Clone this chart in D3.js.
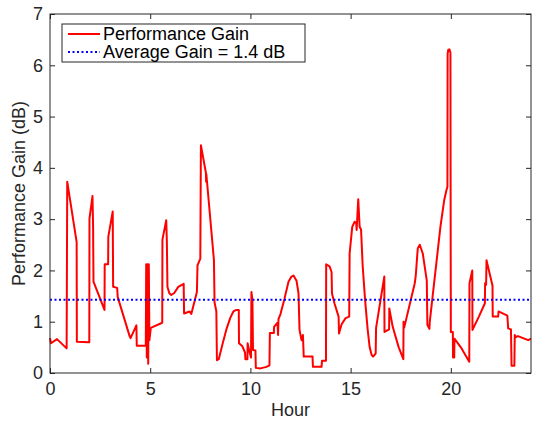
<!DOCTYPE html>
<html>
<head>
<meta charset="utf-8">
<script src="https://cdn.jsdelivr.net/npm/d3@7"></script>
<style>
html,body{margin:0;padding:0;background:#fff;}
svg{display:block;font-family:"Liberation Sans",Arial,Helvetica,sans-serif;}
</style>
</head>
<body>
<svg id="chart" width="533" height="422"></svg>
<script>
const hours = [0.00,0.05,0.35,0.83,0.86,1.33,1.34,1.96,1.97,2.12,2.15,2.17,2.72,2.73,2.90,2.91,3.13,3.15,3.35,3.38,3.98,4.02,4.31,4.33,4.78,4.80,4.83,4.86,4.90,4.93,4.96,5.03,5.60,
5.61,5.80,5.83,5.86,5.95,6.05,6.20,6.40,6.67,6.69,6.97,7.05,7.13,7.33,7.36,7.50,7.53,7.55,7.78,7.79,7.80,8.18,8.21,8.30,8.33,8.42,
8.60,8.80,9.00,9.15,9.30,9.42,9.43,9.60,9.73,9.75,9.85,9.86,9.95,10.03,10.05,10.10,10.13,10.25,10.27,10.50,10.80,10.95,10.97,11.17,11.18,11.35,11.38,11.40,
11.50,11.70,11.90,12.05,12.15,12.30,12.40,12.45,12.55,12.62,12.66,13.10,13.12,13.55,13.57,13.77,13.78,13.95,14.05,14.07,14.20,14.40,14.42,14.55,14.75,14.93,
14.95,15.08,15.20,15.28,15.30,15.38,15.45,15.52,15.60,15.72,15.85,15.95,16.05,16.12,16.25,16.27,16.68,16.69,16.92,16.93,17.10,17.40,17.63,17.64,17.67,
18.20,18.25,18.35,18.45,18.60,18.80,18.83,18.93,18.95,19.48,19.67,19.77,19.83,19.84,19.87,19.93,19.98,20.00,20.10,20.11,20.17,20.18,20.50,20.92,
20.93,21.07,21.08,21.40,21.70,21.71,21.76,21.78,22.08,22.09,22.36,22.38,22.82,22.86,23.00,23.03,23.17,23.19,23.25,23.35,23.86,24.00];
const gain = [0.68,0.58,0.66,0.48,3.73,2.55,0.61,0.60,3.01,3.45,2.85,1.78,1.23,2.12,2.12,2.66,3.15,1.68,1.66,1.48,0.71,0.68,0.93,0.53,0.53,2.12,0.30,2.12,0.18,2.12,0.64,0.88,0.98,
2.60,2.98,2.58,1.68,1.56,1.52,1.56,1.68,1.74,1.16,1.20,1.15,1.27,1.58,2.10,2.23,4.44,4.40,3.90,3.73,3.88,2.20,1.38,1.20,0.25,0.27,
0.55,0.85,1.08,1.20,1.23,1.23,0.58,0.52,0.40,0.27,0.27,0.58,0.42,0.30,1.58,1.42,0.45,0.44,0.10,0.09,0.12,0.15,0.78,0.78,0.90,0.98,0.74,1.05,
1.15,1.45,1.78,1.88,1.90,1.80,1.55,0.84,0.64,0.74,0.32,0.32,0.12,0.12,0.24,0.24,2.12,2.08,1.97,1.55,1.35,1.10,0.77,0.95,1.07,1.10,
2.33,2.85,2.95,2.92,2.79,3.39,2.85,2.80,2.10,1.43,0.85,0.50,0.35,0.32,0.38,0.88,1.88,0.80,0.85,1.26,0.90,0.50,0.27,1.00,0.88,
1.75,1.90,2.43,2.50,2.33,1.80,0.94,0.86,1.00,2.85,3.37,3.55,3.63,6.22,6.30,6.31,6.25,0.80,0.80,0.30,0.30,0.67,0.50,0.22,
1.75,2.00,0.84,1.10,1.36,1.75,1.72,2.20,1.70,1.10,1.10,1.20,1.12,0.87,0.85,0.14,0.14,0.74,0.70,0.72,0.64,0.67];
const averageGain = 1.43;
const xTicks = [0,5,10,15,20];
const yTicks = [0,1,2,3,4,5,6,7];
const legendLabels = ["Performance Gain","Average Gain = 1.4 dB"];

const svg = d3.select("#chart");
const m = {l:50, r:2, t:14, b:49};
const W = 533, H = 422;
const x = d3.scaleLinear().domain([0,24]).range([m.l, W-m.r]);
const y = d3.scaleLinear().domain([0,7]).range([H-m.b, m.t]);
const axisColor = "#262626";
const fmt = d3.format("d");

// data line
const pts = hours.map((h,i)=>[h,gain[i]]);
svg.append("path").datum(pts)
  .attr("fill","none").attr("stroke","#ff0000").attr("stroke-width",2)
  .attr("stroke-linejoin","round")
  .attr("d", d3.line().x(d=>x(d[0])).y(d=>y(d[1])));

// average line
svg.append("line")
  .attr("x1",x(0)).attr("x2",x(24)).attr("y1",y(averageGain)).attr("y2",y(averageGain))
  .attr("stroke","#0000ff").attr("stroke-width",2).attr("stroke-dasharray","2,2.5");

function styleAxis(g, labels){
  g.select(".domain").remove();
  g.selectAll(".tick line").attr("stroke",axisColor).attr("stroke-width",1);
  g.selectAll(".tick text").attr("fill",axisColor).attr("font-size","18px")
    .attr("font-family","'Liberation Sans',Arial,Helvetica,sans-serif");
  if(!labels) g.selectAll(".tick text").remove();
}
svg.append("g").attr("transform",`translate(0,${y(0)})`)
  .call(d3.axisBottom(x).tickValues(xTicks).tickFormat(fmt).tickSizeInner(-5).tickSizeOuter(0).tickPadding(9))
  .call(g=>styleAxis(g,true));
svg.append("g").attr("transform",`translate(0,${y(7)})`)
  .call(d3.axisTop(x).tickValues(xTicks).tickSizeInner(-5).tickSizeOuter(0))
  .call(g=>styleAxis(g,false));
svg.append("g").attr("transform",`translate(${x(0)},0)`)
  .call(d3.axisLeft(y).tickValues(yTicks).tickFormat(fmt).tickSizeInner(-5).tickSizeOuter(0).tickPadding(7))
  .call(g=>styleAxis(g,true));
svg.append("g").attr("transform",`translate(${x(24)},0)`)
  .call(d3.axisRight(y).tickValues(yTicks).tickSizeInner(-5).tickSizeOuter(0))
  .call(g=>styleAxis(g,false));

// box
svg.append("rect").attr("x",x(0)).attr("y",y(7)).attr("width",x(24)-x(0)).attr("height",y(0)-y(7))
  .attr("fill","none").attr("stroke",axisColor).attr("stroke-width",1);

// axis labels
svg.append("text").attr("x",(x(0)+x(24))/2).attr("y",416).attr("text-anchor","middle")
  .attr("font-size","18px").attr("fill",axisColor).text("Hour");
svg.append("text").attr("transform",`translate(25,${(y(0)+y(7))/2}) rotate(-90)`)
  .attr("text-anchor","middle").attr("font-size","18px").attr("fill",axisColor)
  .text("Performance Gain (dB)");

// legend
const lg = svg.append("g");
lg.append("rect").attr("x",62).attr("y",24).attr("width",243).attr("height",38)
  .attr("fill","#fff").attr("stroke",axisColor).attr("stroke-width",1);
lg.append("line").attr("x1",68).attr("x2",100).attr("y1",34).attr("y2",34)
  .attr("stroke","#ff0000").attr("stroke-width",2);
lg.append("line").attr("x1",68).attr("x2",100).attr("y1",52).attr("y2",52)
  .attr("stroke","#0000ff").attr("stroke-width",2).attr("stroke-dasharray","2,2.5");
lg.selectAll("text.lab").data(legendLabels).enter().append("text")
  .attr("x",103).attr("y",(d,i)=>40+i*18)
  .attr("font-size","18px").attr("fill","#000").text(d=>d);
</script>
</body>
</html>
